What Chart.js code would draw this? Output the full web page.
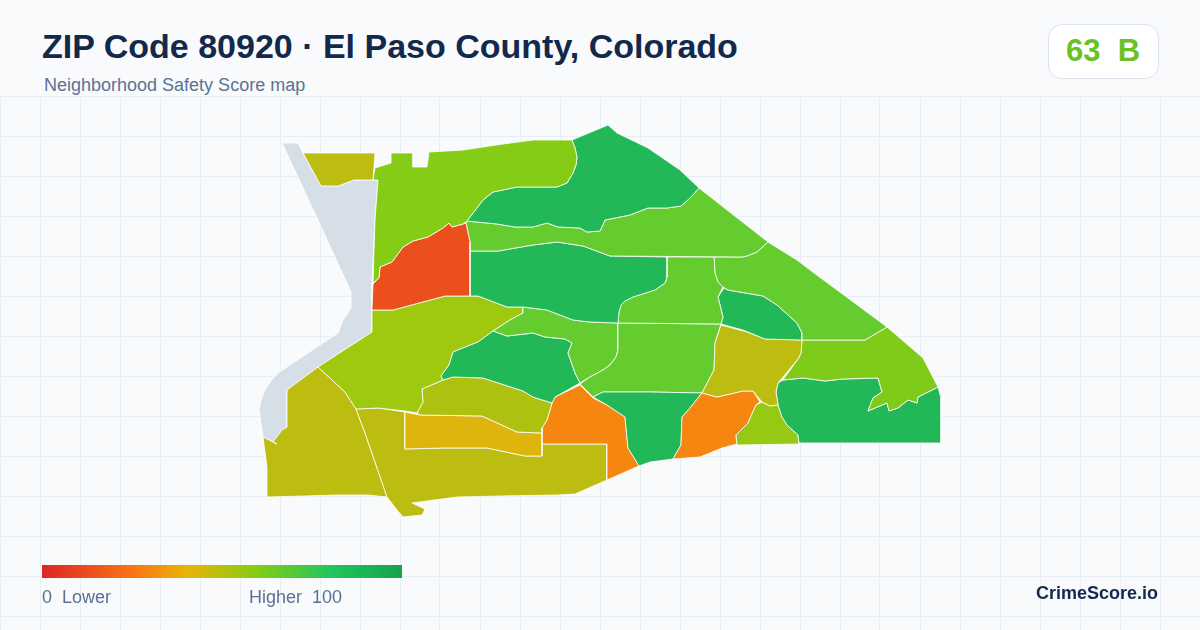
<!DOCTYPE html>
<html><head><meta charset="utf-8">
<script src="https://cdn.jsdelivr.net/npm/chart.js@4"></script>
<style>
html,body{margin:0;padding:0;width:1200px;height:630px;overflow:hidden;background:#f8fafc;font-family:"Liberation Sans",Arial,sans-serif}
#map{position:absolute;left:0;top:96px}
.t{position:absolute;white-space:pre;line-height:1}
#title{left:42px;top:29px;font-size:34px;font-weight:700;color:#13294b}
#sub{left:44px;top:76px;font-size:18px;color:#5a7394}
#badge{position:absolute;left:1048px;top:24px;width:109px;height:53px;background:#fff;border:1px solid #dbe4ee;border-radius:14px;z-index:2}
#score{left:1066px;top:35px;font-size:31px;font-weight:700;color:#6cc024;z-index:3}
#bar{position:absolute;left:42px;top:565px;width:360px;height:13px;background:linear-gradient(90deg,#dc2626 0%,#f97316 25%,#eab308 40%,#84cc16 60%,#22c55e 80%,#16a34a 100%);z-index:2}
#lo{left:42px;top:588px;font-size:18px;color:#5a7394;z-index:2}
#hi{left:249px;top:588px;font-size:18px;color:#5a7394;z-index:2}
#brand{left:1036px;top:584px;font-size:18px;font-weight:700;color:#13294b;z-index:2}
</style></head><body>
<canvas id="map" width="1200" height="534"></canvas>
<div class="t" id="title">ZIP Code 80920 · El Paso County, Colorado</div>
<div class="t" id="sub">Neighborhood Safety Score map</div>
<div id="badge"></div><div class="t" id="score">63  B</div>
<div id="bar"></div>
<div class="t" id="lo">0  Lower</div><div class="t" id="hi">Higher  100</div>
<div class="t" id="brand">CrimeScore.io</div>
<script>
const northOlive=[[303,153],[375,153],[373,180],[354,180],[338,186],[321,186]];
const northLime=[[375,168],[391,163],[391,153],[413,153],[413,167],[427,167],[429,152],[463,150],[503,144],[533,140],[572,140],[575,148],[577,157],[576,165],[573,173],[567,183],[557,187],[537,187],[517,187],[493,192],[488,196],[483,200],[467,221],[463,224],[452,227],[449,223],[443,228],[428,237],[413,241],[403,247],[392,262],[380,267],[379,278],[373,283],[375,220],[378,180],[373,180]];
const redZone=[[373,284],[379,278],[380,267],[392,262],[403,247],[413,241],[428,237],[443,228],[449,223],[452,227],[463,224],[466,223],[470,242],[470,296],[445,296],[393,310],[372,310]];
const northGreen=[[608,125],[617,133],[648,148],[680,170],[699,188],[690,198],[681,206],[667,208],[648,208],[630,215],[605,220],[600,231],[587,232],[580,228],[558,227],[547,223],[533,227],[515,227],[497,224],[467,221],[483,200],[488,196],[493,192],[517,187],[537,187],[557,187],[567,183],[573,173],[576,165],[577,157],[575,148],[572,140]];
const northBand=[[467,221],[497,224],[515,227],[533,227],[547,223],[558,227],[580,228],[587,232],[600,231],[605,220],[630,215],[648,208],[667,208],[681,206],[690,198],[699,188],[768,242],[757,252],[747,256],[742,257],[610,256],[583,246],[557,242],[533,245],[498,251],[470,251],[470,242],[466,223]];
const centralGreen=[[470,251],[498,251],[533,245],[557,242],[583,246],[610,256],[667,257],[667,277],[665,283],[655,290],[633,297],[625,301],[621,305],[619,312],[618,323],[590,322],[573,320],[547,310],[523,307],[507,307],[478,296],[470,296]];
const midLime=[[667,257],[714,257],[715,273],[718,282],[723,287],[718,297],[723,317],[721,324],[618,323],[619,312],[621,305],[625,301],[633,297],[655,290],[665,283],[667,277]];
const eastLime=[[714,257],[742,257],[747,256],[757,252],[768,242],[797,260],[810,270],[887,327],[865,340],[802,340],[802,333],[797,323],[777,305],[763,296],[728,290],[723,287],[718,282],[715,273]];
const ovalGreen=[[724,288],[728,290],[763,296],[777,305],[797,323],[802,333],[802,340],[765,339],[743,330],[721,324],[723,317],[718,297]];
const midOlive=[[721,325],[747,332],[765,339],[802,340],[801,353],[798,359],[783,377],[778,383],[776,392],[778,405],[770,406],[762,402],[753,391],[743,391],[717,397],[702,393],[714,370],[715,343]];
const eastYellow=[[887,327],[923,358],[938,387],[918,397],[917,403],[908,400],[898,408],[889,411],[887,403],[868,411],[873,398],[882,392],[878,378],[843,379],[825,381],[803,378],[783,380],[798,359],[801,353],[802,340],[865,340]];
const eastGreen=[[783,380],[803,378],[825,381],[843,379],[878,378],[882,392],[873,398],[868,411],[887,403],[889,411],[898,408],[908,400],[917,403],[918,397],[938,387],[941,398],[941,443],[799,443],[798,435],[787,425],[782,417],[778,405],[776,392],[778,383]];
const southLime=[[762,402],[770,406],[778,405],[782,417],[787,425],[798,435],[799,444],[737,445],[736,435],[748,423],[756,405]];
const eastOrange=[[753,391],[760,402],[756,405],[748,423],[736,435],[737,444],[722,448],[700,457],[673,459],[681,445],[682,417],[690,408],[702,393],[717,397],[743,391]];
const southGreen=[[593,397],[603,392],[650,392],[702,393],[690,408],[682,417],[681,445],[673,459],[650,462],[639,466],[628,448],[625,417],[607,405]];
const centerLime=[[618,323],[721,324],[715,343],[714,370],[702,393],[650,392],[603,392],[593,397],[580,384],[590,377],[603,370],[610,365],[616,357],[618,350]];
const westLime=[[523,307],[547,310],[573,320],[590,322],[618,323],[618,350],[616,357],[610,365],[603,370],[590,377],[580,383],[575,373],[568,353],[572,343],[565,339],[545,337],[533,333],[507,336],[493,331],[510,320],[523,313]];
const westGreen=[[493,331],[507,336],[533,333],[545,337],[565,339],[572,343],[568,353],[575,373],[580,383],[555,397],[552,403],[533,397],[523,391],[483,378],[453,377],[443,380],[441,376],[449,365],[453,352],[478,342]];
const westYellow=[[372,310],[393,310],[445,296],[478,296],[507,307],[523,307],[523,313],[510,320],[493,331],[478,342],[453,352],[449,365],[441,376],[443,380],[422,389],[423,402],[417,413],[405,411],[378,408],[356,409],[345,392],[318,367],[372,332]];
const bandOlive=[[443,380],[453,377],[483,378],[523,391],[533,397],[552,403],[547,420],[542,428],[542,433],[517,432],[482,416],[420,415],[417,413],[423,402],[422,389]];
const amberRect=[[405,412],[420,415],[482,416],[517,432],[542,433],[542,456],[525,456],[487,448],[443,448],[405,449]];
const centerOrange=[[552,403],[555,397],[580,385],[593,398],[607,405],[625,417],[628,448],[639,466],[607,480],[607,444],[542,444],[542,428],[547,420]];
const southOlive=[[356,409],[378,408],[405,412],[405,449],[443,448],[487,448],[525,456],[542,456],[542,444],[607,444],[607,480],[575,494],[558,495],[500,496],[457,497],[412,503],[425,509],[422,515],[403,517],[397,510],[387,497],[365,433]];
const swOlive=[[318,367],[345,392],[356,409],[365,433],[387,497],[368,495],[340,495],[267,497],[267,467],[263,437],[277,444],[273,442],[282,430],[287,427],[287,390]];
const water=[[282,143],[298,143],[303,153],[321,186],[338,186],[354,180],[378,180],[375,220],[372,283],[372,332],[318,367],[287,390],[287,427],[273,442],[263,437],[259,410],[261,400],[265,390],[270,382],[278,373],[338,333],[343,320],[351,308],[351,292],[317,218]];

const GREEN='#22b858',LIME='#64cc2e',OLIVE='#bcbd10';
const layers=[
 [northOlive,OLIVE],[northLime,'#84cc16'],[redZone,'#ea4f1c'],[northGreen,GREEN],[northBand,LIME],
 [centralGreen,GREEN],[midLime,LIME],[eastLime,LIME],[ovalGreen,GREEN],[midOlive,OLIVE],
 [eastYellow,'#7ecb1a'],[eastGreen,GREEN],[southLime,'#96c814'],[eastOrange,'#f58710'],[southGreen,GREEN],
 [centerLime,LIME],[westLime,LIME],[westGreen,GREEN],[westYellow,'#9ec90f'],[bandOlive,'#aec110'],
 [amberRect,'#deb50c'],[centerOrange,'#f58710'],[southOlive,OLIVE],[swOlive,OLIVE],[water,'#d6dfe8']
];
const gridX=[];for(let v=0;v<=1200;v+=40)gridX.push(v);
const gridY=[];for(let v=96;v<=630;v+=40)gridY.push(v);
new Chart(document.getElementById('map'),{
 type:'scatter',
 data:{datasets:layers.map(([pts,color])=>({
   data:pts.concat([pts[0]]).map(([x,y])=>({x,y})),
   showLine:true,fill:'shape',backgroundColor:color,borderColor:'#ffffff',borderWidth:0.8,
   pointRadius:0,pointHoverRadius:0,tension:0,borderJoinStyle:'round'
 }))},
 options:{responsive:false,animation:false,events:[],devicePixelRatio:1,
  layout:{padding:0},
  plugins:{legend:{display:false},tooltip:{enabled:false},title:{display:false}},
  scales:{
   x:{type:'linear',min:0,max:1200,afterBuildTicks:a=>{a.ticks=gridX.map(value=>({value}))},
      ticks:{display:false},border:{display:false},grid:{color:'#e8eef5',lineWidth:1,drawTicks:false}},
   y:{type:'linear',min:96,max:630,reverse:true,afterBuildTicks:a=>{a.ticks=gridY.map(value=>({value}))},
      ticks:{display:false},border:{display:false},grid:{color:'#e8eef5',lineWidth:1,drawTicks:false}}
  }}
});
</script>
</body></html>
